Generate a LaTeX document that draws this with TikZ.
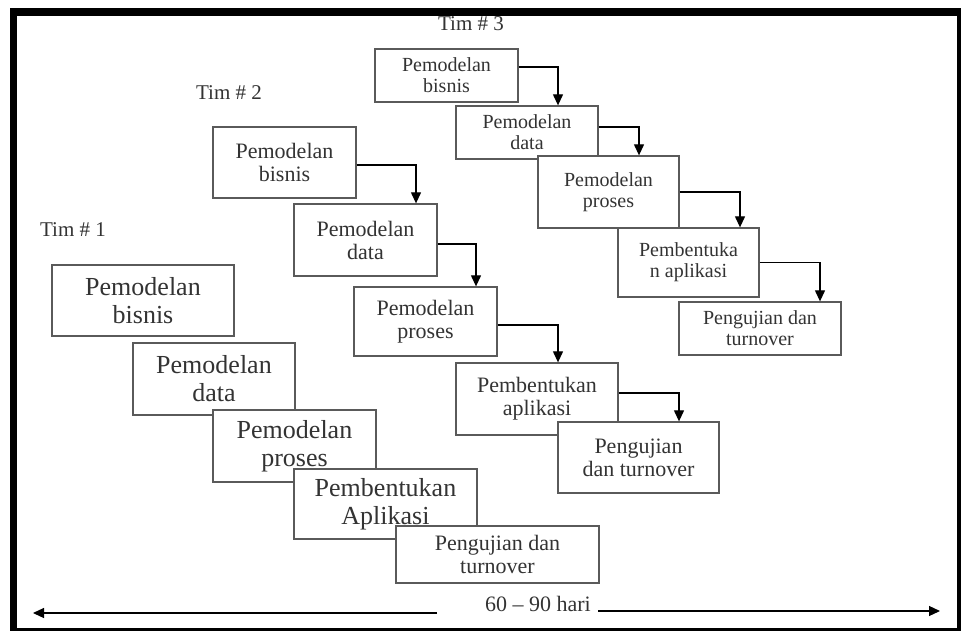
\documentclass[tikz,border=0pt]{standalone}
\usepackage{fontspec}
\setmainfont{Liberation Serif}
\usetikzlibrary{arrows.meta}
\definecolor{boxline}{HTML}{5A5A5A}
\definecolor{ink}{HTML}{333333}
\tikzset{x=1pt, y=-1pt,
  box/.style={draw=boxline, fill=white, line width=1.3pt, align=center, inner sep=0pt, text=ink},
  small/.style={font=\fontsize{20}{21}\selectfont},
  mid/.style={font=\fontsize{22}{23}\selectfont},
  big/.style={font=\fontsize{26}{28}\selectfont},
  team/.style={text=ink, font=\fontsize{21}{22}\selectfont},
  arr/.style={-{Triangle[width=10pt,length=11pt]}, line width=1.2pt, black}}

\begin{document}
\begin{tikzpicture}
  \useasboundingbox (0,0) rectangle (961,631);
  \fill[black] (10,8) rectangle (961,631);
  \fill[white] (17,16) rectangle (957,628);

  % Tim 1
  \node[team] (tim1) at (73,230) {Tim \# 1};
  \node[box,big,minimum width=182pt,minimum height=71pt] (t1a) at (143,300.5) {Pemodelan\\bisnis};
  \node[box,big,minimum width=162pt,minimum height=72pt] (t1b) at (214,379) {Pemodelan\\data};
  \node[box,big,minimum width=163pt,minimum height=72pt] (t1c) at (294.5,446) {Pemodelan\\proses};
  \node[box,big,minimum width=183pt,minimum height=70pt] (t1d) at (385.5,504) {Pembentukan\\Aplikasi};
  \node[box,mid,minimum width=203pt,minimum height=57pt] (t1e) at (497.5,554.5) {Pengujian dan\\turnover};

  % Tim 2
  \node[team] (tim2) at (229,93) {Tim \# 2};
  \node[box,mid,minimum width=143pt,minimum height=71pt] (t2a) at (284.5,162.5) {Pemodelan\\bisnis};
  \node[box,mid,minimum width=143pt,minimum height=72pt] (t2b) at (365.5,240) {Pemodelan\\data};
  \node[box,mid,minimum width=143pt,minimum height=69pt] (t2c) at (425.5,321.5) {Pemodelan\\proses};
  \node[box,mid,minimum width=162pt,minimum height=72pt] (t2d) at (537,399) {Pembentukan\\aplikasi};
  \node[box,mid,minimum width=161pt,minimum height=71pt] (t2e) at (638.5,457.5) {Pengujian\\dan turnover};

  % Tim 3
  \node[team] (tim3) at (471,24) {Tim \# 3};
  \node[box,small,minimum width=143pt,minimum height=53pt] (t3a) at (446.5,75.5) {Pemodelan\\bisnis};
  \node[box,small,minimum width=142pt,minimum height=53pt] (t3b) at (527,132.5) {Pemodelan\\data};
  \node[box,small,minimum width=141pt,minimum height=72pt] (t3c) at (608.5,192) {Pemodelan\\proses};
  \node[box,small,minimum width=141pt,minimum height=69pt] (t3d) at (688.5,262.5) {Pembentuka\\n aplikasi};
  \node[box,small,minimum width=162pt,minimum height=53pt] (t3e) at (760,328.5) {Pengujian dan\\turnover};

  \foreach \a/\b/\dy/\dx in {t2a/t2b/-2.5/50.5, t2b/t2c/-4/50.5, t2c/t2d/-3.5/21, t2d/t2e/6/40.5,
                             t3a/t3b/8.5/31, t3b/t3c/5.5/30.5, t3c/t3d/0/51.5, t3d/t3e/0/60}
    \draw[arr] ([yshift=\dy pt]\a.east) -| ([xshift=\dx pt]\b.north);

  % time span
  \node[text=ink, font=\fontsize{22}{23}\selectfont] (span) at (538,604) {60 -- 90 hari};
  \coordinate (lstart) at (437,613);
  \coordinate (lend) at (33,613);
  \coordinate (rend) at (940,611);
  \draw[arr] (lstart) -- (lend);
  \draw[arr] ([xshift=4pt]span.east |- rend) -- (rend);
\end{tikzpicture}
\end{document}
